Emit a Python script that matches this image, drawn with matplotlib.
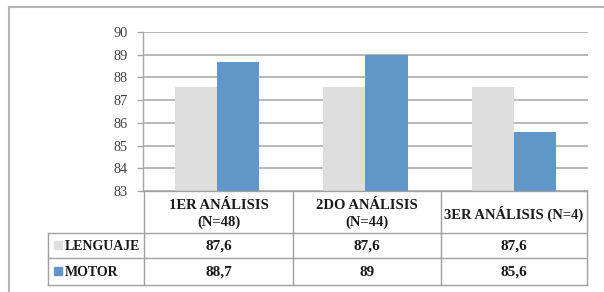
import matplotlib
matplotlib.use("Agg")
import matplotlib.pyplot as plt
import numpy as np
from matplotlib.patches import Rectangle

categories = ["1ER ANÁLISIS\n(N=48)", "2DO ANÁLISIS\n(N=44)", "3ER ANÁLISIS (N=4)"]
series_names = ["LENGUAJE", "MOTOR"]
lenguaje = [87.6, 87.6, 87.6]
motor = [88.7, 89, 85.6]
value_labels = [["87,6", "87,6", "87,6"], ["88,7", "89", "85,6"]]
y_ticks = [83, 84, 85, 86, 87, 88, 89, 90]
colors = ["#DEDEDE", "#6096C9"]

W, H = 604, 292
fig = plt.figure(figsize=(W / 100, H / 100), dpi=100)
fig.patch.set_facecolor("white")

serif = ["Liberation Serif", "DejaVu Serif"]

def fx(px):
    return px / W

def fy(py):
    return 1 - py / H

# plot axes
x0, x1, ytop, ybot = 143, 588, 32, 191
ax = fig.add_axes([fx(x0), fy(ybot), fx(x1) - fx(x0), fy(ytop) - fy(ybot)])
n = len(categories)
x = np.arange(n)
bw = 0.285
ax.bar(x - bw / 2, np.array(lenguaje) - 83, bw, bottom=83, color=colors[0], zorder=3)
ax.bar(x + bw / 2, np.array(motor) - 83, bw, bottom=83, color=colors[1], zorder=3)
ax.set_xlim(-0.5, n - 0.5)
ax.set_ylim(83, 90)
ax.set_yticks(y_ticks)
ax.set_yticklabels([str(t) for t in y_ticks], fontfamily=serif, fontsize=10.3, color="#404040")
ax.tick_params(axis="y", length=4, width=1, color="#A8A8A8", pad=7)
ax.set_xticks([])
ax.grid(axis="y", color="#ADADAD", linewidth=1.2, zorder=0)
for s in ["top", "right", "bottom"]:
    ax.spines[s].set_visible(False)
ax.spines["left"].set_color("#A8A8A8")
ax.spines["left"].set_linewidth(1)
ax.set_facecolor("none")

# overlay axes in pixel coords for table and border
ov = fig.add_axes([0, 0, 1, 1])
ov.set_xlim(0, W)
ov.set_ylim(H, 0)
ov.axis("off")
ov.patch.set_alpha(0)

# outer border
ov.plot([9, W], [7, 7], color="#B5B5B5", lw=1.5)
ov.plot([9, 9], [7, H], color="#B5B5B5", lw=1.5)

cols = [144, 293, 441, 587]
rows = [191, 233, 258, 285]
legend_left = 48
lc = "#A0A0A0"
ov.plot([cols[0], cols[-1]], [rows[0], rows[0]], color=lc, lw=1)
for r in rows[1:]:
    ov.plot([legend_left, cols[-1]], [r, r], color=lc, lw=1)
for c in cols:
    ov.plot([c, c], [rows[0], rows[-1]], color=lc, lw=1)
ov.plot([legend_left, legend_left], [rows[1], rows[-1]], color=lc, lw=1)

fs = 10.5
for i, cat in enumerate(categories):
    cx = (cols[i] + cols[i + 1]) / 2
    ov.text(cx, (rows[0] + rows[1]) / 2 + 2, cat, ha="center", va="center",
            fontfamily=serif, fontweight="bold", fontsize=fs, color="#1a1a1a",
            linespacing=1.3)

for j, name in enumerate(series_names):
    ry = (rows[j + 1] + rows[j + 2]) / 2
    ov.add_patch(Rectangle((54, ry - 4.5), 8, 8, color=colors[j]))
    ov.text(65, ry + 0.5, name, ha="left", va="center", fontfamily=serif,
            fontweight="bold", fontsize=10, color="#1a1a1a")
    for i in range(n):
        cx = (cols[i] + cols[i + 1]) / 2
        ov.text(cx, ry + 0.5, value_labels[j][i], ha="center", va="center",
                fontfamily=serif, fontweight="bold", fontsize=11, color="#1a1a1a")

fig.savefig("out.png", dpi=100)
